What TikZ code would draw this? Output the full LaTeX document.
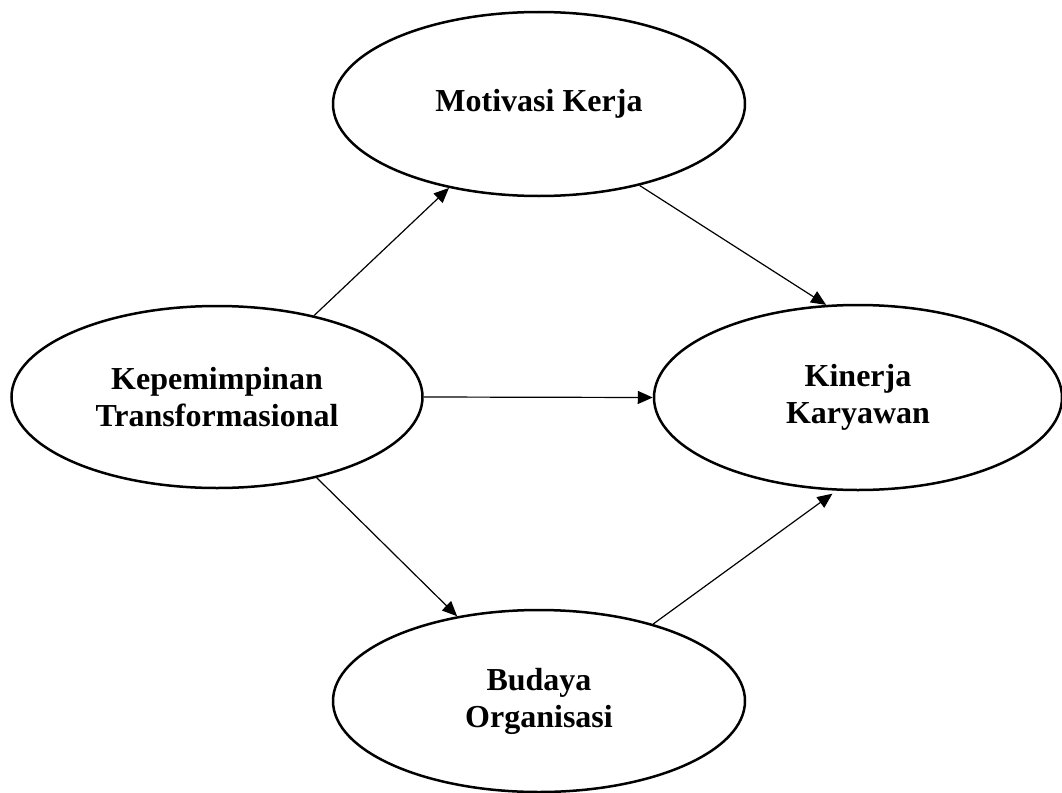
\documentclass[tikz,border=0pt]{standalone}
\usepackage{fontspec}
\setmainfont{Liberation Serif}
\usetikzlibrary{shapes.geometric,arrows.meta}
\begin{document}
\begin{tikzpicture}[x=1pt,y=-1pt,
  var/.style={ellipse, draw, line width=2.5pt, inner sep=0pt, align=center,
    font=\bfseries\fontsize{32}{37}\selectfont},
  link/.style={line width=1.2pt, -{Triangle[length=15pt,width=13pt]}}]
\useasboundingbox (0,0) rectangle (1062,792);
\node[var, minimum width=411pt, minimum height=182pt] (kep) at (217,397) {Kepemimpinan\\Transformasional};
\node[var, minimum width=412pt, minimum height=184pt] (mot) at (539,104) {Motivasi Kerja};
\node[var, minimum width=408pt, minimum height=185pt] (kin) at (858,397.5) {Kinerja\\Karyawan};
\node[var, minimum width=412pt, minimum height=182pt] (bud) at (539,701) {Budaya\\Organisasi};
\draw[link] (kep.40) -- (mot.223);
\draw[link] (mot.321) -- (kin.109);
\draw[link] (kep.east) -- (kin.west);
\draw[link] (kep.321) -- (bud.134);
\draw[link, shorten >=5pt] (bud.34) -- (kin.257);
\end{tikzpicture}
\end{document}
